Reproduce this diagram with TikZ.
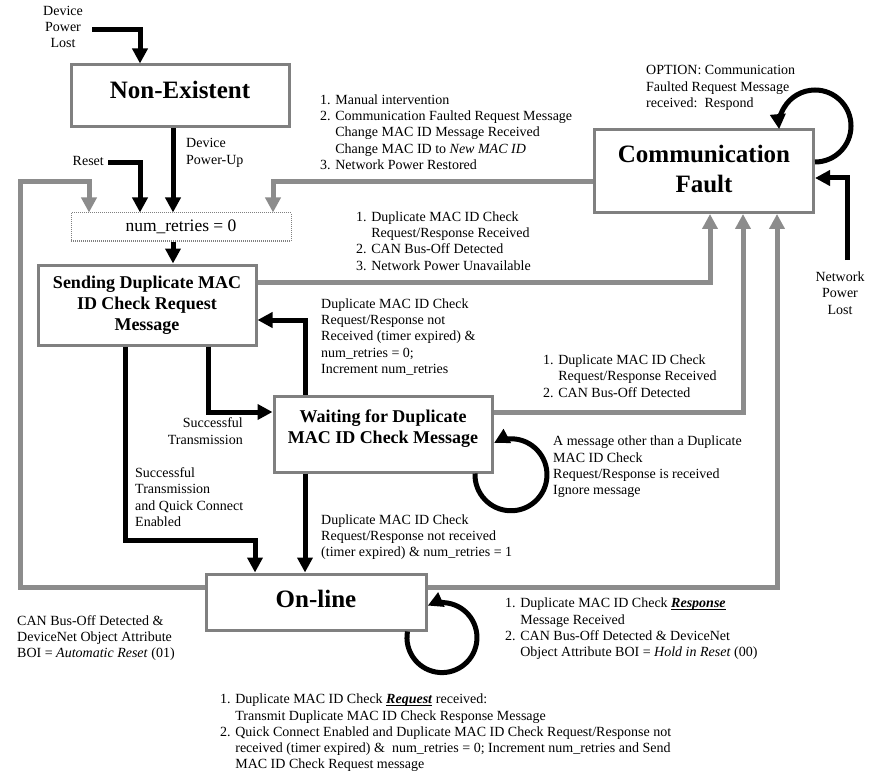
\documentclass[tikz,border=0pt]{standalone}
\usepackage{fontspec}
\setmainfont{Liberation Serif}
\usetikzlibrary{arrows.meta,calc}
\definecolor{conngray}{RGB}{140,140,140}
\definecolor{boxgray}{RGB}{128,128,128}
\newcommand\ulword[1]{\setbox0\hbox{#1}\rlap{\rule[-1.8pt]{\wd0}{0.9pt}}\box0\relax}
\begin{document}
\begin{tikzpicture}[x=1pt,y=-1pt,
  state/.style={draw=boxgray, line width=3pt, fill=white, align=center, inner sep=0pt},
  bigtitle/.style={font=\fontsize{25}{30}\selectfont\bfseries},
  midtitle/.style={font=\fontsize{18}{21}\selectfont\bfseries},
  blk/.style={line width=5pt, black, -{Triangle[width=15pt,length=15pt]}},
  gry/.style={line width=5pt, conngray, -{Triangle[width=15pt,length=15pt]}},
  lbl/.style={font=\fontsize{14}{16.3}\selectfont, align=left, inner sep=0pt, anchor=west},
  clbl/.style={font=\fontsize{14}{16.3}\selectfont, align=center, inner sep=0pt},
]
\useasboundingbox (0,0) rectangle (870,778);

% states
\node[state, bigtitle, minimum width=218pt, minimum height=62pt, text depth=12pt] (nonex) at (180,96) {Non-Existent};
\node[draw=boxgray, densely dotted, line width=1pt, fill=white, minimum width=220pt, minimum height=28pt, inner sep=0pt,
      font=\fontsize{17.5}{20}\selectfont] (numr) at (181,227) {num\_retries = 0};
\node[state, midtitle, minimum width=218pt, minimum height=80pt] (send) at (147,305) {Sending Duplicate MAC\\ID Check Request\\Message};
\node[state, midtitle, minimum width=218pt, minimum height=76pt, text depth=15pt] (wait) at (383,434) {Waiting for Duplicate\\MAC ID Check Message};
\node[state, bigtitle, minimum width=220pt, minimum height=56pt, text depth=6pt] (online) at (316,602) {On-line};
\node[state, bigtitle, minimum width=219pt, minimum height=83pt, text depth=5pt] (cf) at (704,171) {Communication\\Fault};

% free ends
\coordinate (dpl) at (92,30);
\coordinate (rst) at (108,163);
\coordinate (npl) at (847,260);
\coordinate (lc) at (20,182);

% black connectors
\draw[blk] (dpl) -| ([xshift=-40pt]nonex.north);
\draw[blk] ([xshift=-7pt]nonex.south) -- ([xshift=-7pt]nonex.south |- numr.north);
\draw[blk] (rst) -| ([xshift=-41pt]numr.north);
\draw[blk] ([xshift=-8pt]numr.south) -- ([xshift=-8pt]numr.south |- send.north);
\draw[blk] ([xshift=-78pt]wait.north) |- ([yshift=-15pt]send.east);
\draw[blk] ([xshift=61pt]send.south) |- ([yshift=22pt]wait.west);
\draw[blk] ([xshift=-22pt]send.south) -- ++(0,194) -| ([xshift=-61pt]online.north);
\draw[blk] ([xshift=-78pt]wait.south) -- ([xshift=-78pt]wait.south |- online.north);
\draw[blk] (npl) |- ([yshift=-7pt]cf.east);
% self loops
\draw[blk] ([xshift=92pt]wait.south) arc[start angle=182, end angle=-118, radius=36];
\draw[blk] ([xshift=91.5pt]online.south) arc[start angle=190, end angle=-114, radius=35];
\draw[blk] ([yshift=9pt]cf.east) arc[start angle=90, end angle=-185, radius=36];

% gray connectors
\draw[gry] ([yshift=15pt]online.west) -| (lc) -| ([xshift=-92pt]numr.north);
\draw[gry] ([yshift=-11pt]cf.west) -| ([xshift=92pt]numr.north);
\draw[gry] ([yshift=23pt]send.east) -| ([xshift=6pt]cf.south);
\draw[gry] ([yshift=22pt]wait.east) -| ([xshift=39pt]cf.south);
\draw[gry] ([yshift=15pt]online.east) -| ([xshift=73pt]cf.south);

% labels
\node[clbl] (tdpl) at (63,27) {Device\\Power\\Lost};
\node[lbl] (tpu) at (186,153) {Device\\Power-Up};
\node[lbl, anchor=east] (trst) at (104,161) {Reset};
\node[lbl] (tcf) at (320,132) {1. Manual intervention\\2. Communication Faulted Request Message\\\phantom{2. }Change MAC ID Message Received\\\phantom{2. }Change MAC ID to \textit{New MAC ID}\\3. Network Power Restored};
\node[lbl] (tsend) at (356,241) {1. Duplicate MAC ID Check\\\phantom{1. }Request/Response Received\\2. CAN Bus-Off Detected\\3. Network Power Unavailable};
\node[lbl] (tretry) at (321,337) {Duplicate MAC ID Check\\Request/Response not\\Received (timer expired) \&\\num\_retries = 0;\\Increment num\_retries};
\node[lbl, anchor=east, align=right] (tsucc) at (243,431) {Successful\\Transmission};
\node[lbl] (tquick) at (135,497) {Successful\\Transmission\\and Quick Connect\\Enabled};
\node[lbl] (twon) at (321,537) {Duplicate MAC ID Check\\Request/Response not received\\(timer expired) \& num\_retries = 1};
\node[lbl] (twcf) at (543,376) {1. Duplicate MAC ID Check\\\phantom{1. }Request/Response Received\\2. CAN Bus-Off Detected};
\node[lbl] (twloop) at (553,467) {A message other than a Duplicate\\MAC ID Check\\Request/Response is received\\Ignore message};
\node[lbl] (tocf) at (505,629) {1. Duplicate MAC ID Check \ulword{\textbf{\textit{Response}}}\\\phantom{1. }Message Received\\2. CAN Bus-Off Detected \& DeviceNet\\\phantom{2. }Object Attribute BOI = \textit{Hold in Reset} (00)};
\node[lbl] (tboi) at (17,638) {CAN Bus-Off Detected \&\\DeviceNet Object Attribute\\BOI = \textit{Automatic Reset} (01)};
\node[lbl] (tbot) at (220,733) {1. Duplicate MAC ID Check \ulword{\textbf{\textit{Request}}} received:\\\phantom{1. }Transmit Duplicate MAC ID Check Response Message\\2. Quick Connect Enabled and Duplicate MAC ID Check Request/Response not\\\phantom{2. }received (timer expired) \&\ \ num\_retries = 0; Increment num\_retries and Send\\\phantom{2. }MAC ID Check Request message};
\node[lbl] (tcfl) at (646,88) {OPTION: Communication\\Faulted Request Message\\received:\ \ Respond};
\node[clbl] (tnpl) at (840,293) {Network\\Power\\Lost};
\end{tikzpicture}
\end{document}
